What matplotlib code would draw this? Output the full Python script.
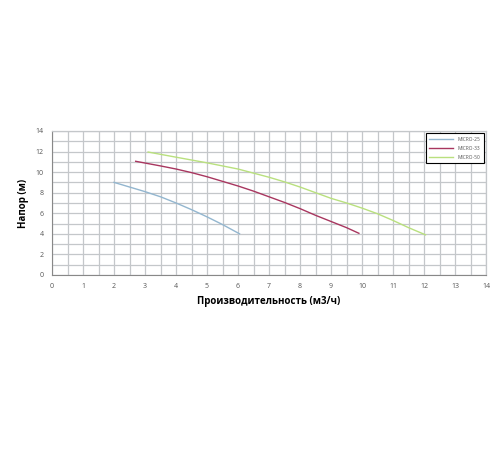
import matplotlib
matplotlib.use("Agg")
import matplotlib.pyplot as plt
import numpy as np

q25 = [2.0, 2.5, 3.0, 3.5, 4.0, 4.5, 5.0, 5.5, 6.05]
h25 = [9.0, 8.55, 8.1, 7.6, 7.0, 6.35, 5.65, 4.9, 4.0]
q33 = [2.7, 3.5, 4.0, 4.5, 5.0, 5.5, 6.0, 6.5, 7.0, 7.5, 8.0, 8.5, 9.0, 9.5, 9.9]
h33 = [11.05, 10.6, 10.3, 9.95, 9.55, 9.1, 8.65, 8.15, 7.6, 7.05, 6.45, 5.8, 5.2, 4.6, 4.05]
q50 = [3.1, 4.0, 5.0, 6.0, 6.5, 7.0, 7.5, 8.0, 8.5, 9.0, 9.5, 10.0, 10.5, 11.0, 11.5, 12.05]
h50 = [11.95, 11.45, 10.9, 10.3, 9.9, 9.5, 9.05, 8.55, 8.0, 7.45, 7.0, 6.5, 5.95, 5.3, 4.6, 3.9]
names = ["MICRO-25", "MICRO-33", "MICRO-50"]
colors = ["#93b6cf", "#a8365f", "#b9e07e"]

plt.rcParams['font.family'] = ['Open Sans', 'DejaVu Sans']
fig = plt.figure(figsize=(5, 4.5), dpi=100)
ax = fig.add_axes([0.104, 0.389, 0.868, 0.320])
for q, h, n, c in zip([q25, q33, q50], [h25, h33, h50], names, colors):
    ax.plot(q, h, color=c, lw=1.0, label=n)
ax.set_xlim(0, 14)
ax.set_ylim(0, 14)
ax.set_xticks(np.arange(0, 15, 1))
ax.set_yticks(np.arange(0, 15, 2))
ax.set_xticks(np.arange(0, 14.01, 0.5), minor=True)
ax.set_yticks(np.arange(0, 14.01, 1), minor=True)
ax.grid(which='both', color='#c4c7ca', lw=0.9)
ax.tick_params(which='both', length=0, labelsize=5, colors='#555555', pad=6)
for s in ['top', 'right']:
    ax.spines[s].set_color('#c4c7ca')
    ax.spines[s].set_linewidth(0.9)
for s in ['left', 'bottom']:
    ax.spines[s].set_color('#888888')
    ax.spines[s].set_linewidth(0.8)
ax.set_axisbelow(True)
ax.set_xlabel("Производительность (м3/ч)", fontsize=7, fontweight='bold', labelpad=4)
ax.set_ylabel("Напор (м)", fontsize=7, fontweight='bold', labelpad=5)
leg = ax.legend(loc='upper right', fontsize=3.5, frameon=True, fancybox=False,
                edgecolor='black', framealpha=1, handlelength=5, borderpad=0.7,
                labelspacing=0.8, bbox_to_anchor=(1.0, 1.0))
leg.get_frame().set_linewidth(0.8)
for t in leg.get_texts():
    t.set_color('#555555')
fig.savefig("out.png", dpi=100, facecolor='white')
